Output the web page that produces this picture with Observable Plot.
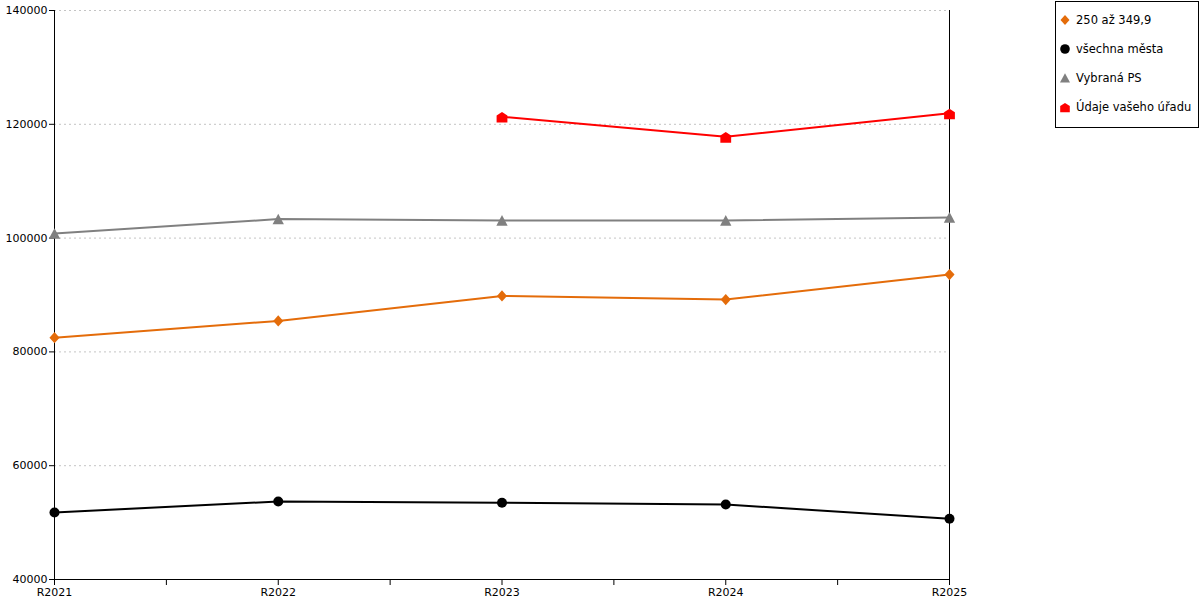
<!DOCTYPE html>
<html>
<head>
<meta charset="utf-8">
<script src="https://cdn.jsdelivr.net/npm/d3@7"></script>
<script src="https://cdn.jsdelivr.net/npm/@observablehq/plot@0.6"></script>
<style>
  html, body { margin: 0; padding: 0; background: #fff; }
  #wrap { position: relative; width: 1200px; height: 600px; font-family: "DejaVu Sans", sans-serif; }
  #legend { position: absolute; left: 1055px; top: 1px; width: 142px; height: 125px; border: 1px solid #000; background: #fff; font-size: 11.5px; color: #000; }
  #legend .item { position: absolute; left: 3px; height: 16px; display: flex; align-items: center; }
  #legend svg { margin-right: 5px; }
</style>
</head>
<body>
<div id="wrap"></div>
<script>
const categories = ["R2021", "R2022", "R2023", "R2024", "R2025"];
const seriesNames = ["250 až 349,9", "všechna města", "Vybraná PS", "Údaje vašeho úřadu"];
const valsOrange = [82500, 85450, 89840, 89190, 93590];
const valsBlack  = [51780, 53710, 53480, 53180, 50670];
const valsGrey   = [100800, 103340, 103090, 103090, 103620];
const valsRed    = [null, null, 121340, 117820, 121930];
const yTicks = [40000, 60000, 80000, 100000, 120000, 140000];
const colors = ["#E46C0A", "#000000", "#808080", "#FF0000"];

// custom symbols (size = r*r*PI in Plot)
const rad = size => Math.sqrt(size / Math.PI);
const symDiamond = { draw(c, size) { const r = rad(size); c.moveTo(0, -r); c.lineTo(r * 0.9, 0); c.lineTo(0, r); c.lineTo(-r * 0.9, 0); c.closePath(); } };
const symTriangle = { draw(c, size) { const r = rad(size); c.moveTo(0, -r * 1.0); c.lineTo(r * 1.05, r * 0.95); c.lineTo(-r * 1.05, r * 0.95); c.closePath(); } };
const symHouse = { draw(c, size) { const r = rad(size); c.moveTo(0, -r * 0.85); c.lineTo(r, -r * 0.2); c.lineTo(r, r * 1.1); c.lineTo(-r, r * 1.1); c.lineTo(-r, -r * 0.2); c.closePath(); } };

function toRows(vals, s) {
  return vals.map((v, i) => ({ i, cat: categories[i], v, s })).filter(d => d.v != null);
}
const rows = [
  toRows(valsOrange, 0), toRows(valsBlack, 1), toRows(valsGrey, 2), toRows(valsRed, 3)
];
const symbols = [symDiamond, "circle", symTriangle, symHouse];
const radii = [5.6, 5, 5.4, 5.4];

const marks = [
  Plot.gridY(yTicks.filter(t => t > 40000), { stroke: "#c4c4c4", strokeOpacity: 1, strokeDasharray: "2,3", strokeWidth: 1 }),
  Plot.ruleX([0], { stroke: "#000", strokeWidth: 1 }),
  Plot.ruleX([categories.length - 1], { stroke: "#000", strokeWidth: 1 }),
  Plot.ruleY([40000], { stroke: "#000", strokeWidth: 1 }),
  Plot.axisY({ ticks: yTicks, tickSize: 5, tickPadding: 2, tickFormat: d => String(d), fontSize: 11, label: null }),
  Plot.axisX({ ticks: d3.range(0, categories.length - 0.99, 0.5), tickSize: 6, tickPadding: 3, fontSize: 11, label: null,
               tickFormat: d => Number.isInteger(d) ? categories[d] : "" })
];
rows.forEach((r, k) => {
  marks.push(Plot.line(r, { x: "i", y: "v", stroke: colors[k], strokeWidth: 2 }));
});
rows.forEach((r, k) => {
  marks.push(Plot.dot(r, { x: "i", y: "v", fill: colors[k], stroke: "none", symbol: () => symbols[k], r: radii[k] }));
});

const chart = Plot.plot({
  width: 1200,
  height: 600,
  marginLeft: 54,
  marginRight: 251,
  marginTop: 10,
  marginBottom: 21,
  style: { fontFamily: "DejaVu Sans, sans-serif", fontSize: "11px", color: "#000", background: "#fff" },
  x: { type: "linear", domain: [0, categories.length - 1] },
  y: { domain: [40000, 140000] },
  symbol: { type: "identity" },
  marks
});
const wrap = document.getElementById("wrap");
wrap.appendChild(chart);

// legend
const legend = document.createElement("div");
legend.id = "legend";
const tops = [10, 39, 68, 97];
seriesNames.forEach((name, k) => {
  const item = document.createElement("div");
  item.className = "item";
  item.style.top = tops[k] + "px";
  const svg = d3.create("svg").attr("width", 12).attr("height", 12).attr("viewBox", "-6 -6 12 12");
  const sym = symbols[k] === "circle" ? d3.symbolCircle : symbols[k];
  const lr = [5, 4.8, 4.8, 4.8][k];
  svg.append("path").attr("d", d3.symbol(sym, lr * lr * Math.PI)()).attr("fill", colors[k]);
  item.appendChild(svg.node());
  const t = document.createElement("span");
  t.textContent = name;
  item.appendChild(t);
  legend.appendChild(item);
});
wrap.appendChild(legend);
</script>
</body>
</html>
